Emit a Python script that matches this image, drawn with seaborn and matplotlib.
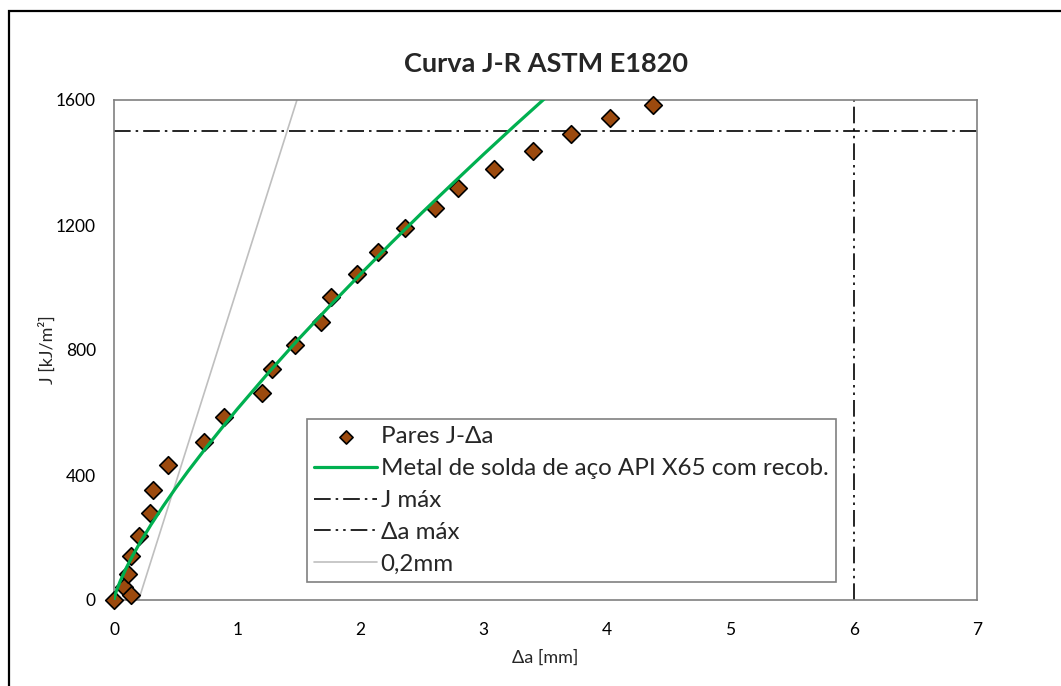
import numpy as np
import pandas as pd
import matplotlib
matplotlib.use("Agg")
import matplotlib.pyplot as plt
from matplotlib.patches import Rectangle
import seaborn as sns

# ---- data ----
delta_a = [0.00, 0.08, 0.14, 0.11, 0.135, 0.20, 0.29, 0.32, 0.44, 0.73, 0.89,
           1.20, 1.28, 1.47, 1.68, 1.76, 1.97, 2.14, 2.36, 2.60, 2.79, 3.08,
           3.40, 3.71, 4.02, 4.37]
j_vals = [0, 42, 16, 83, 142, 206, 277, 352, 431, 507, 587,
          663, 738, 816, 889, 969, 1042, 1115, 1189, 1253, 1318, 1380,
          1437, 1491, 1542, 1584]

curve_x = [0.0, 0.01, 0.02, 0.05, 0.1, 0.15, 0.2, 0.3, 0.4, 0.5, 0.6, 0.75,
           0.9, 1.0, 1.25, 1.5, 1.75, 2.0, 2.25, 2.5, 2.75, 3.0, 3.25, 3.5]
curve_j = [0, 17, 30, 60, 103, 141, 176, 241, 301, 358, 412, 489,
           563, 611, 726, 836, 941, 1043, 1143, 1240, 1334, 1427, 1518, 1607]

offset_x = [0.2, 1.484]
offset_j = [0, 1600]

j_max = 1500
da_max = 6

x_ticks = [0, 1, 2, 3, 4, 5, 6, 7]
y_ticks = [0, 400, 800, 1200, 1600]

labels = ["Pares J-Δa", "Metal de solda de aço API X65 com recob.",
          "J máx", "Δa máx", "0,2mm"]

# ---- plot ----
sns.set_theme(style="white")
plt.rcParams['font.family'] = ['Lato', 'DejaVu Sans']

fig = plt.figure(figsize=(10.61, 6.86), dpi=100)
ax = fig.add_axes([114/1061, 1-600/686, 863/1061, 500/686])

pts = pd.DataFrame({"da": delta_a, "J": j_vals})
crv = pd.DataFrame({"da": curve_x, "J": curve_j})
off = pd.DataFrame({"da": offset_x, "J": offset_j})

sns.scatterplot(data=pts, x="da", y="J", ax=ax, marker="D", s=80,
                color="#9C4A0E", edgecolor="black", linewidth=1.2, zorder=3,
                label=labels[0], clip_on=False)
sns.lineplot(data=crv, x="da", y="J", ax=ax, color="#00B050", linewidth=2.3,
             zorder=4, label=labels[1], sort=False)
ax.axhline(j_max, color="black", linewidth=1.2,
           linestyle=(0, (10, 3, 1.5, 3)), zorder=2, label=labels[2])
ax.axvline(da_max, color="black", linewidth=1.2,
           linestyle=(0, (10, 3, 1.5, 3, 1.5, 3)), zorder=2, label=labels[3])
sns.lineplot(data=off, x="da", y="J", ax=ax, color="#BFBFBF", linewidth=1.2,
             zorder=2, label=labels[4], sort=False)

ax.set_xlim(0, 7)
ax.set_ylim(0, 1600)
ax.set_xticks(x_ticks)
ax.set_yticks(y_ticks)
ax.set_xticklabels([str(t) for t in x_ticks])
ax.set_yticklabels([str(t) for t in y_ticks])
ax.tick_params(axis="both", direction="in", length=6, width=1, color="#808080",
               labelsize=12.5, labelcolor="#000000")
ax.tick_params(axis="y", pad=13)
ax.tick_params(axis="x", pad=16)
for sp in ax.spines.values():
    sp.set_color("#808080")
    sp.set_linewidth(1.2)
    sp.set_visible(True)

ax.set_xlabel("Δa [mm]", fontsize=13, labelpad=8)
ax.set_ylabel("J [kJ/m²]", fontsize=13, labelpad=0)
ax.set_title("Curva J-R ASTM E1820", fontsize=19.5, fontweight="bold", pad=20)

handles, labs = ax.get_legend_handles_labels()
order = [labs.index(l) for l in labels]
leg = ax.legend([handles[i] for i in order], [labs[i] for i in order],
                loc="lower left", bbox_to_anchor=(0.2236, 0.036),
                fontsize=17.4, frameon=True, fancybox=False, edgecolor="#808080",
                framealpha=1, handlelength=2.6, handletextpad=0.15,
                labelspacing=0.45, borderpad=0.3, borderaxespad=0,
                markerscale=0.75)
leg.get_frame().set_linewidth(1.2)

fig.add_artist(Rectangle((9/1061, -0.5), 2, 1.5 - 11/686, transform=fig.transFigure,
                         fill=False, edgecolor="black", linewidth=1.6,
                         clip_on=False))

fig.savefig("out.png", dpi=100)
